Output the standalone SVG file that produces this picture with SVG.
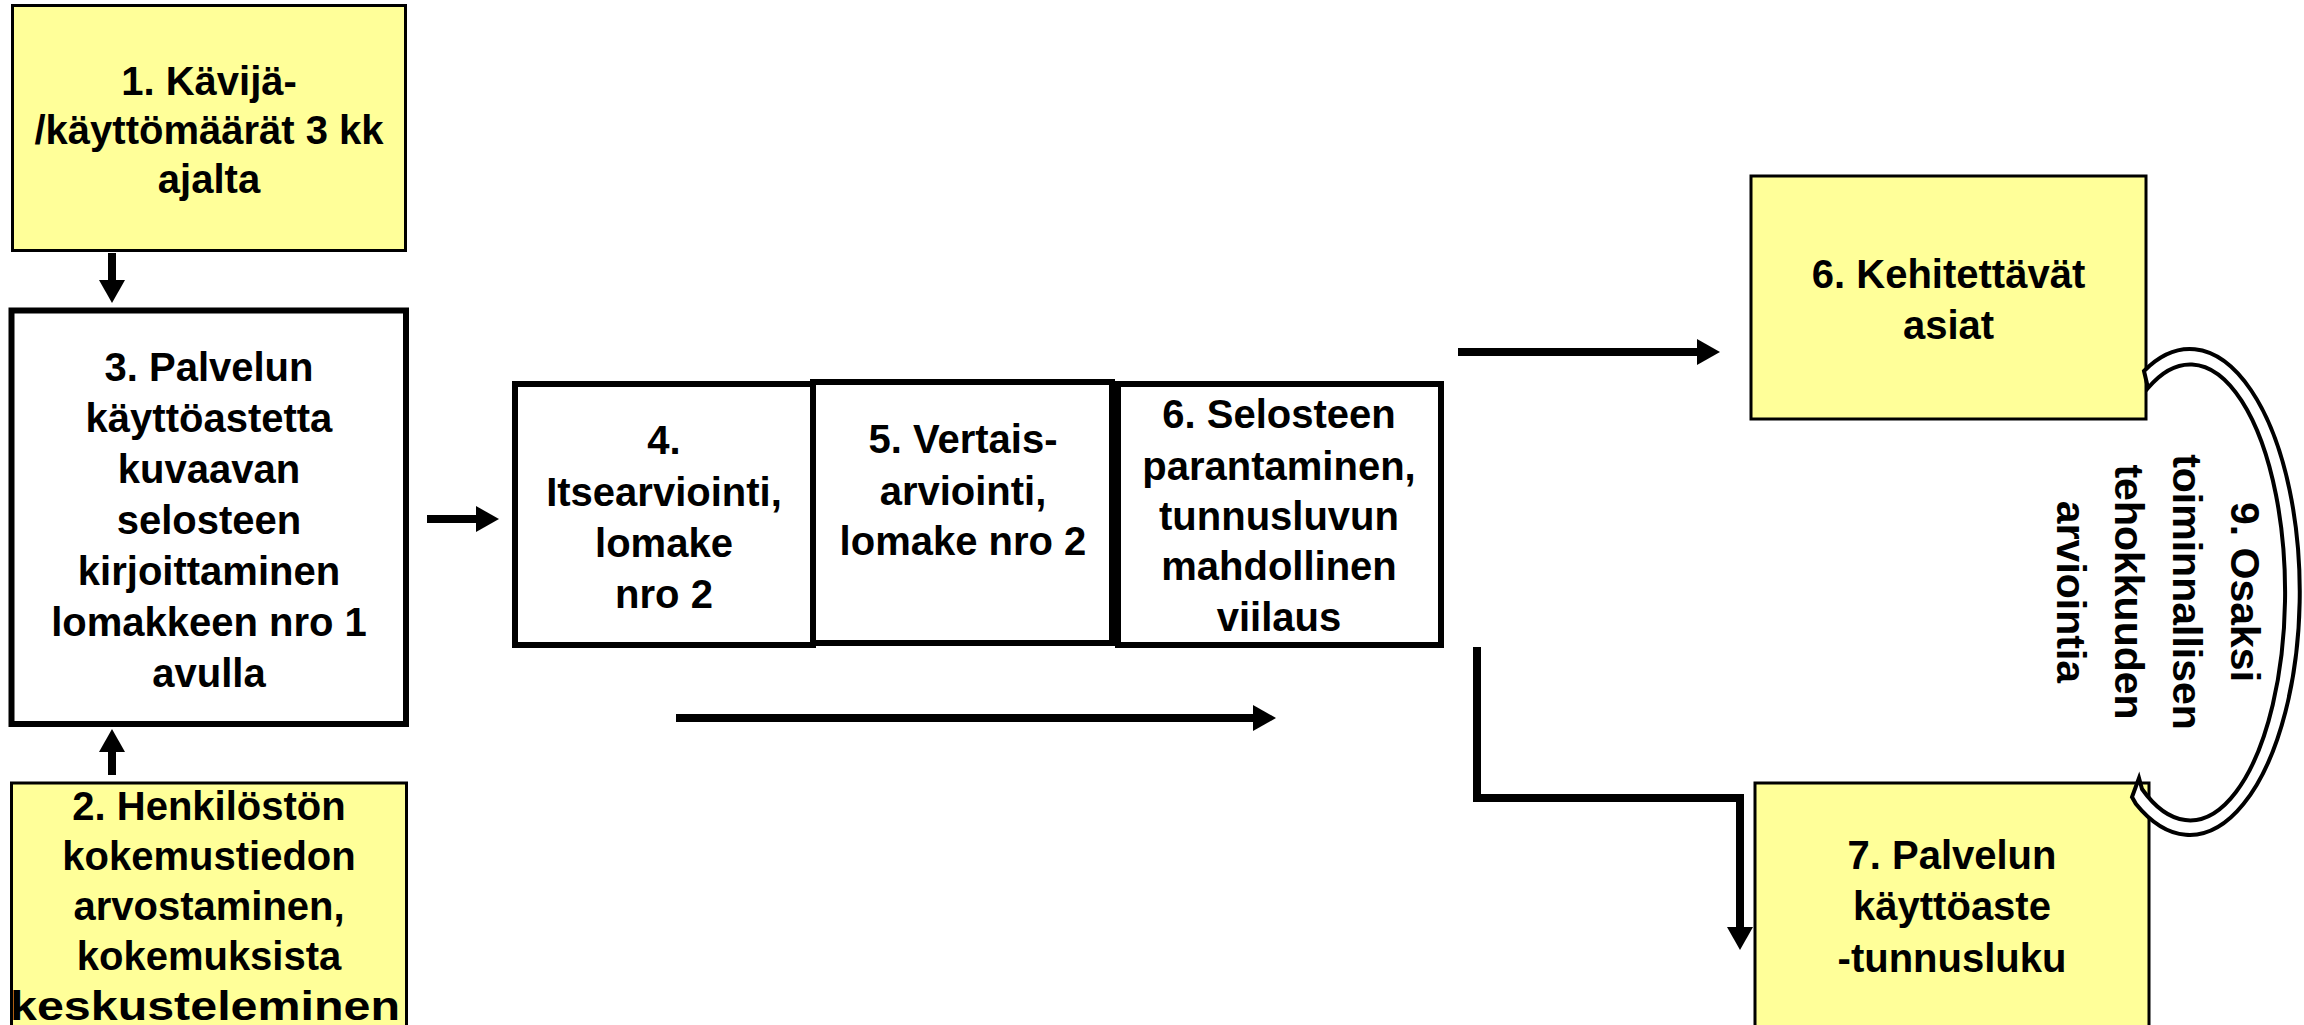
<svg xmlns="http://www.w3.org/2000/svg" width="2304" height="1025" viewBox="0 0 2304 1025">
<style>
  .t { font-family: "Liberation Sans", Arial, sans-serif; font-weight: bold; font-size: 40px; fill: #000; text-anchor: middle; }
  .r { font-size: 41px; }
  .yel { fill: #FFFF99; stroke: #000; stroke-width: 3; }
  .wht { fill: #FFFFFF; stroke: #000; stroke-width: 6; }
  .con { fill: none; stroke: #000; stroke-width: 8; }
</style>
<defs>
  <marker id="ah" markerUnits="userSpaceOnUse" markerWidth="24" markerHeight="26" viewBox="0 0 24 26" refX="0" refY="13" orient="auto">
    <path d="M0,0 L23,13 L0,26 Z" fill="#000"/>
  </marker>
</defs>
<rect width="2304" height="1025" fill="#FFFFFF"/>

<g id="connectors">
  <line class="con" x1="112" y1="253" x2="112" y2="280" marker-end="url(#ah)"/>
  <line class="con" x1="112" y1="775" x2="112" y2="752" marker-end="url(#ah)"/>
  <line class="con" x1="427" y1="519" x2="476" y2="519" marker-end="url(#ah)"/>
  <line class="con" x1="1458" y1="352" x2="1697" y2="352" marker-end="url(#ah)"/>
  <line class="con" x1="676" y1="718" x2="1253" y2="718" marker-end="url(#ah)"/>
  <polyline class="con" points="1477,647 1477,798 1740,798 1740,927" marker-end="url(#ah)"/>
</g>

<g id="n1">
  <rect class="yel" x="12.5" y="5.5" width="393" height="245"/>
  <text class="t" x="209" y="95">1. Kävijä-</text>
  <text class="t" x="209" y="144">/käyttömäärät 3 kk</text>
  <text class="t" x="209" y="193">ajalta</text>
</g>

<g id="n3">
  <rect class="wht" x="11.5" y="310.5" width="394.5" height="413.5" stroke-width="6.5"/>
  <text class="t" x="209" y="381">3. Palvelun</text>
  <text class="t" x="209" y="432">käyttöastetta</text>
  <text class="t" x="209" y="483">kuvaavan</text>
  <text class="t" x="209" y="534">selosteen</text>
  <text class="t" x="209" y="585">kirjoittaminen</text>
  <text class="t" x="209" y="636">lomakkeen nro 1</text>
  <text class="t" x="209" y="687">avulla</text>
</g>

<g id="n2">
  <rect class="yel" x="11.5" y="783" width="395" height="260"/>
  <text class="t" x="209" y="820">2. Henkilöstön</text>
  <text class="t" x="209" y="870">kokemustiedon</text>
  <text class="t" x="209" y="920">arvostaminen,</text>
  <text class="t" x="209" y="970">kokemuksista</text>
  <text class="t" x="205" y="1020" textLength="390" lengthAdjust="spacingAndGlyphs">keskusteleminen</text>
</g>

<g id="n4">
  <rect class="wht" x="515" y="384" width="298" height="261"/>
  <text class="t" x="664" y="454">4.</text>
  <text class="t" x="664" y="506">Itsearviointi,</text>
  <text class="t" x="664" y="557">lomake</text>
  <text class="t" x="664" y="608">nro 2</text>
</g>

<g id="n5">
  <rect class="wht" x="813" y="382" width="299" height="261"/>
  <text class="t" x="963" y="453">5. Vertais-</text>
  <text class="t" x="963" y="505">arviointi,</text>
  <text class="t" x="963" y="555">lomake nro 2</text>
</g>

<g id="n6">
  <rect class="wht" x="1118" y="384" width="323" height="261"/>
  <text class="t" x="1279" y="428">6. Selosteen</text>
  <text class="t" x="1279" y="480">parantaminen,</text>
  <text class="t" x="1279" y="530">tunnusluvun</text>
  <text class="t" x="1279" y="580">mahdollinen</text>
  <text class="t" x="1279" y="631">viilaus</text>
</g>

<g id="n6b">
  <rect class="yel" x="1751" y="176" width="395" height="243"/>
  <text class="t" x="1948.5" y="288">6. Kehitettävät</text>
  <text class="t" x="1948.5" y="339">asiat</text>
</g>

<g id="n7">
  <rect class="yel" x="1755" y="783" width="394" height="260"/>
  <text class="t" x="1952" y="869">7. Palvelun</text>
  <text class="t" x="1952" y="920">käyttöaste</text>
  <text class="t" x="1952" y="972">-tunnusluku</text>
</g>

<g id="n9">
  <path d="M2144,371 A110,243 0 1 1 2136,804 L2132,797 L2139,778 L2142,789 A95,228 0 1 0 2148,388 Z" fill="#FFFFFF" stroke="#000" stroke-width="4" stroke-linejoin="miter"/>
  <text class="t r" transform="translate(2231,592) rotate(90)">9. Osaksi</text>
  <text class="t r" transform="translate(2173,592) rotate(90)">toiminnallisen</text>
  <text class="t r" transform="translate(2115,592) rotate(90)">tehokkuuden</text>
  <text class="t r" transform="translate(2057,592) rotate(90)">arviointia</text>
</g>
</svg>
